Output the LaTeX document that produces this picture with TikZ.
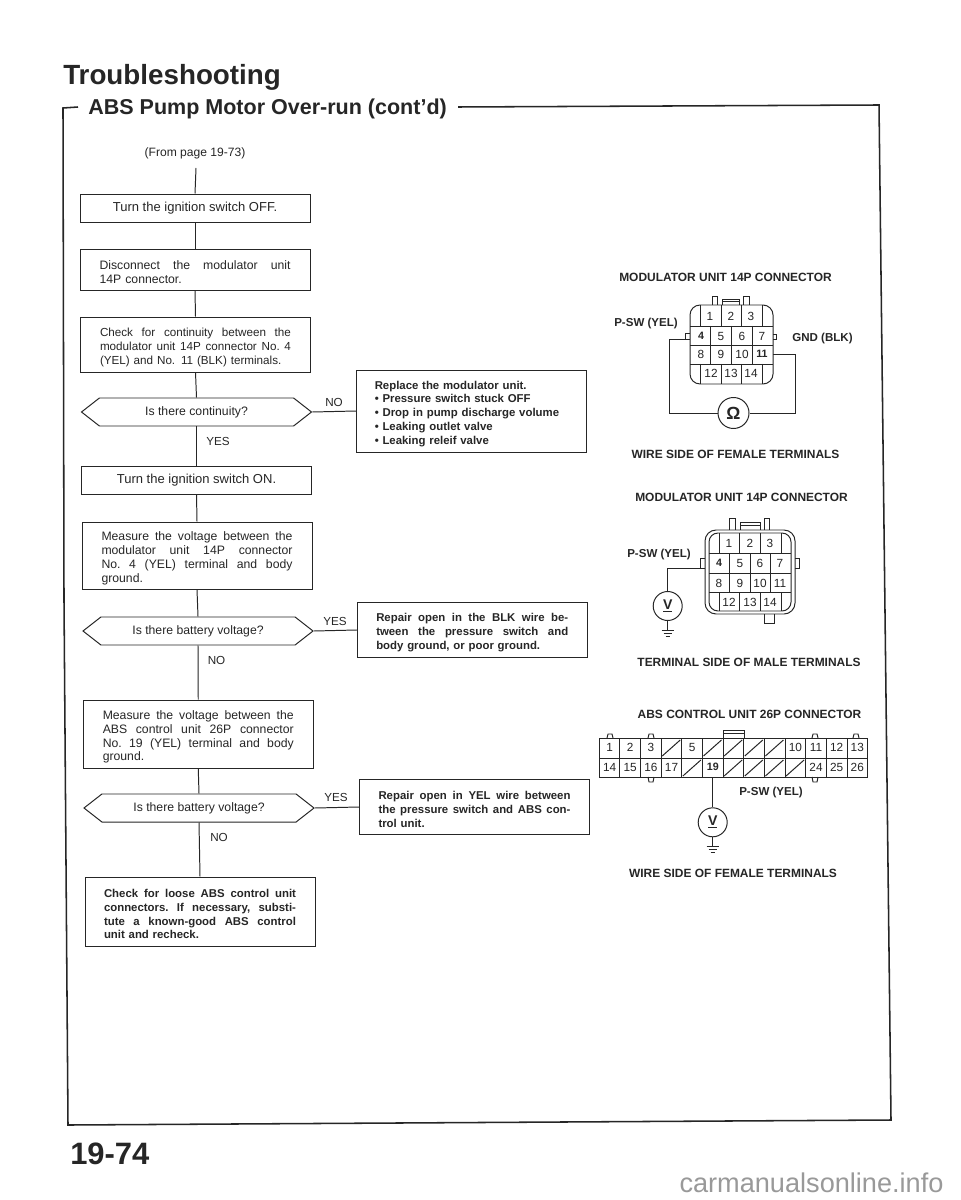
\documentclass[tikz,border=0pt]{standalone}
\usepackage{fontspec}
\setmainfont{Liberation Sans}
\usetikzlibrary{shapes.symbols}
\definecolor{ki}{HTML}{262626}
\definecolor{kmark}{HTML}{999999}
\newlength\px
\setlength\px{0.025cm}
\newcommand\jline[1]{\makebox[\hsize][s]{\spaceskip=0pt\xspaceskip=0pt\frenchspacing #1}}
\newcommand\flowfont{\fontsize{8.7}{9.85}\selectfont}
\newcommand\onefont{\fontsize{9.25}{9.85}\selectfont}
\newcommand\tightfont{\fontsize{8.3}{9.85}\selectfont}
\newcommand\fixfont{\fontsize{8.1}{9.85}\selectfont\bfseries}
\newcommand\headfont{\fontsize{8.5}{9}\selectfont\bfseries}

\begin{document}
\begin{tikzpicture}[x=0.025cm,y=-0.025cm,
  flowbox/.style={draw=ki,line width=0.7pt,inner ysep=0pt,inner xsep=19.5\px,text width=191\px,align=left,font=\flowfont,text=ki,minimum width=230\px,execute at begin node={\rule{0pt}{10.5pt}}},
  onebox/.style={draw=ki,line width=0.7pt,inner sep=0pt,align=center,font=\onefont,text=ki,minimum width=230\px},
  fixbox/.style={draw=ki,line width=0.7pt,inner ysep=0pt,inner xsep=19\px,text width=192\px,align=left,font=\fixfont,text=ki,minimum width=230\px,execute at begin node={\rule{0pt}{9.5pt}}},
  askbox/.style={draw=ki,line width=0.7pt,signal,signal to=east and west,signal pointer angle=76,inner sep=0pt,font=\flowfont,text=ki,minimum width=230\px,minimum height=28\px},
  answer/.style={font=\tightfont,text=ki,inner sep=0pt},
  flow/.style={draw=ki,line width=0.7pt},
  wire/.style={draw=ki,line width=0.7pt},
  head/.style={font=\headfont,text=ki,inner sep=0pt},
  label/.style={font=\fontsize{8.2}{9}\selectfont\bfseries,text=ki,inner sep=0pt},
  pinnum/.style={font=\fontsize{8.4}{10}\selectfont,text=ki,inner sep=0pt},
  pinbold/.style={font=\fontsize{7.6}{10}\selectfont\bfseries,text=ki,inner sep=0pt},
  meter/.style={circle,draw=ki,line width=0.7pt,inner sep=0pt,minimum size=29\px,text=ki}]
  \useasboundingbox (0,0) rectangle (960,1200);
  \fill[white] (0,0) rectangle (960,1200);

  % Page titles and frame
  \node[text=ki,font=\fontsize{19.75}{22}\selectfont\bfseries,anchor=base west,inner sep=0pt] (title) at (63,85) {Troubleshooting};
  \node[text=ki,font=\fontsize{15.3}{18}\selectfont\bfseries,anchor=base west,inner sep=0pt] (subtitle) at (88,115) {ABS Pump Motor Over-run (cont’d)};
  \draw[ki,line width=1.1pt] (78,107) -- (63,108) -- (64,600) -- (68,1125) -- (891,1120) -- (879,105) -- (458,107);
  \node[text=ki,font=\fontsize{22}{24}\selectfont\bfseries,anchor=base west,inner sep=0pt] (pageno) at (70,1164) {19-74};
  \node[text=kmark,font=\fontsize{19.3}{22}\selectfont,inner sep=0pt] (mark) at (811.5,1183) {carmanualsonline.info};

  % Flow chart, left column
  \node[answer,font=\fontsize{8.6}{10}\selectfont] (from) at (195,153) {(From page 19-73)};
  \coordinate (fromend) at (196,168);
  \node[onebox,minimum height=28\px] (off) at (195,208) {Turn the ignition switch OFF.};
  \node[flowbox,minimum height=41\px] (unplug) at (195,269.5) {\jline{Disconnect the modulator unit}\\14P connector.};
  \node[flowbox,font=\tightfont,minimum height=55\px] (check) at (195.5,344.5) {\jline{Check for continuity between the}\\\jline{modulator unit 14P connector No. 4}\\(YEL) and No. 11 (BLK) terminals.};
  \node[askbox] (cont) at (196.5,412) {Is there continuity?};
  \node[onebox,minimum height=28\px] (on) at (196.5,480) {Turn the ignition switch ON.};
  \node[flowbox,minimum height=67\px] (meas14) at (197,555.5) {\jline{Measure the voltage between the}\\\jline{modulator unit 14P connector}\\\jline{No. 4 (YEL) terminal and body}\\ground.};
  \node[askbox] (batt14) at (198,631) {Is there battery voltage?};
  \node[flowbox,minimum height=68\px] (meas26) at (198.25,734) {\jline{Measure the voltage between the}\\\jline{ABS control unit 26P connector}\\\jline{No. 19 (YEL) terminal and body}\\ground.};
  \node[askbox] (batt26) at (199,808) {Is there battery voltage?};
  \node[fixbox,minimum height=69\px] (loose) at (200,911.5) {\jline{Check for loose ABS control unit}\\\jline{connectors. If necessary, substi-}\\\jline{tute a known-good ABS control}\\unit and recheck.};

  % Flow chart, right column
  \node[fixbox,minimum height=82\px,text width=194\px,inner xsep=18\px,execute at begin node={\rule{0pt}{10pt}}] (replace) at (471.75,411) {Replace the modulator unit.\\\textbullet\ Pressure switch stuck OFF\\\textbullet\ Drop in pump discharge volume\\\textbullet\ Leaking outlet valve\\\textbullet\ Leaking releif valve};
  \node[fixbox,minimum height=55\px] (repblk) at (472.25,630) {\jline{Repair open in the BLK wire be-}\\\jline{tween the pressure switch and}\\body ground, or poor ground.};
  \node[fixbox,minimum height=55\px] (repyel) at (474.5,807) {\jline{Repair open in YEL wire between}\\\jline{the pressure switch and ABS con-}\\trol unit.};

  % Answers
  \node[answer] (no1) at (334,402) {NO};
  \node[answer] (yes1) at (218,441) {YES};
  \node[answer] (yes2) at (335,621) {YES};
  \node[answer] (no2) at (216.5,660) {NO};
  \node[answer] (yes3) at (336,797) {YES};
  \node[answer] (no3) at (219,837) {NO};

  % Flow lines
  \draw[flow] (fromend) -- (off.north);
  \draw[flow] (off.south) -- (unplug.north);
  \draw[flow] (unplug.south) -- (check.north);
  \draw[flow] (check.south) -- (cont.north);
  \draw[flow] (cont.south) -- (on.north);
  \draw[flow] (on.south) -- (meas14.north);
  \draw[flow] (meas14.south) -- (batt14.north);
  \draw[flow] (batt14.south) -- (meas26.north);
  \draw[flow] (meas26.south) -- (batt26.north);
  \draw[flow] (batt26.south) -- (loose.north);
  \draw[flow] (cont.east) -- (replace.west);
  \draw[flow] (batt14.east) -- (repblk.west);
  \draw[flow] (batt26.east) -- (repyel.west);

  % First connector, wire side
  \node[head] (headA) at (725.5,277) {MODULATOR UNIT 14P CONNECTOR};
  \node[head] (footA) at (735.5,454) {WIRE SIDE OF FEMALE TERMINALS};
  \node[label] (pswA) at (646,324) {P-SW (YEL)};
  \node[label] (gndA) at (822.5,339) {GND (BLK)};
  \draw[wire,rounded corners=10\px] (690,305) rectangle (773,384);
  \foreach \y in {326,345,364} {
    \draw[wire] (690,\y) -- (773,\y);
  }
  \foreach \x in {700,721,741.5,762} {
    \draw[wire] (\x,305) -- (\x,326);
    \draw[wire] (\x,364) -- (\x,384);
  }
  \foreach \x in {710,731,752} {
    \draw[wire] (\x,326) -- (\x,364);
  }
  \draw[wire] (712,305) -- (712,296) -- (717,296) -- (717,305);
  \draw[wire] (743,305) -- (743,296) -- (749,296) -- (749,305);
  \draw[wire] (722,305) -- (722,299) -- (739,299) -- (739,305) (722,301.5) -- (739,301.5);
  \draw[wire] (690,333) -- (685,333) -- (685,339) -- (690,339);
  \draw[wire] (773,334) -- (776,334) -- (776,339) -- (773,339);
  \foreach \n/\x/\y in {1/710/316,2/731/316,3/751/316,5/721/336,6/742/336,7/762/336,8/701/354,9/721/354,10/742/354,12/711/373,13/731/373,14/751/373} {
    \node[pinnum] (a\n) at (\x,\y) {\n};
  }
  \node[pinbold] (a4) at (701,336) {4};
  \node[pinbold] (a11) at (762,354) {11};
  \node[meter,minimum size=31\px,font=\fontsize{12.5}{13}\selectfont\bfseries] (ohm) at (733.5,413) {Ω};
  \coordinate (tabA) at (685,339);
  \coordinate (pinA) at (773,354);
  \draw[wire] (tabA) -- ++(-16,0) |- (ohm.west);
  \draw[wire] (pinA) -- ++(22,0) |- (ohm.east);

  % Second connector, terminal side
  \node[head] (headB) at (741.5,497) {MODULATOR UNIT 14P CONNECTOR};
  \node[head] (footB) at (749,662) {TERMINAL SIDE OF MALE TERMINALS};
  \node[label] (pswB) at (659,555) {P-SW (YEL)};
  \draw[wire,rounded corners=11\px] (705,530) rectangle (795,614);
  \draw[wire,rounded corners=9\px] (709,533) rectangle (791,611);
  \foreach \y in {553,573,592} {
    \draw[wire] (709,\y) -- (791,\y);
  }
  \foreach \x in {719,739,760,781} {
    \draw[wire] (\x,533) -- (\x,553);
    \draw[wire] (\x,592) -- (\x,611);
  }
  \foreach \x in {729,750,770} {
    \draw[wire] (\x,553) -- (\x,592);
  }
  \draw[wire] (729,530) -- (729,518) -- (735,518) -- (735,530);
  \draw[wire] (764,530) -- (764,518) -- (769,518) -- (769,530);
  \draw[wire] (740,530) -- (740,522) -- (760,522) -- (760,530) (740,525) -- (760,525);
  \draw[wire] (705,558) -- (700,558) -- (700,568) -- (705,568);
  \draw[wire] (795,558) -- (799,558) -- (799,568) -- (795,568);
  \draw[wire] (764,614) -- (764,623) -- (774,623) -- (774,614);
  \foreach \n/\x/\y in {1/729/543,2/750/543,3/770/543,5/740/563,6/760/563,7/780/563,8/719/583,9/740/583,10/760/583,11/780/583,12/729/602,13/750/602,14/770/602} {
    \node[pinnum] (b\n) at (\x,\y) {\n};
  }
  \node[pinbold] (b4) at (719,563) {4};
  \node[meter,font=\fontsize{10}{12}\selectfont\bfseries] (vB) at (667.7,606) {\underline{V}};
  \coordinate (tabB) at (705,568);
  \coordinate (gndB) at (667.7,630);
  \draw[wire] (tabB) -| (vB.north);
  \draw[wire] (vB.south) -- (gndB);
  \foreach \w/\d in {6/0,4/3,2/6} {
    \draw[wire] (667.7-\w,630+\d) -- (667.7+\w,630+\d);
  }

  % Third connector, 26 pins
  \node[head] (headC) at (749.5,714) {ABS CONTROL UNIT 26P CONNECTOR};
  \node[head] (footC) at (733,873) {WIRE SIDE OF FEMALE TERMINALS};
  \node[label] (pswC) at (771,793) {P-SW (YEL)};
  \draw[wire] (599.3,738) rectangle (867.6,777);
  \draw[wire] (599.3,758) -- (867.6,758);
  \foreach \i in {1,...,12} {
    \draw[wire] ({599.3+20.64*\i},738) -- ({599.3+20.64*\i},777);
  }
  \foreach \x in {607,648,812,853} {
    \draw[wire] (\x,738) -- (\x+1,734) -- (\x+5,734) -- (\x+6,738);
  }
  \foreach \x in {648,812} {
    \draw[wire] (\x,777) -- (\x+1,782) -- (\x+5,782) -- (\x+6,777);
  }
  \draw[wire] (723,738) -- (723,730) -- (744,730) -- (744,738) (723,733) -- (744,733);
  % Empty cavities
  \foreach \i in {3,5,6,7,8} {
    \draw[wire] ({600.3+20.64*\i},756) -- ({618.3+20.64*\i},740);
  }
  \foreach \i in {4,6,7,8,9} {
    \draw[wire] ({600.3+20.64*\i},776) -- ({618.3+20.64*\i},760);
  }
  \foreach \n/\i in {1/0,2/1,3/2,5/4,10/9,11/10,12/11,13/12} {
    \node[pinnum] (c\n) at ({609.6+20.64*\i},747) {\n};
  }
  \foreach \n/\i in {14/0,15/1,16/2,17/3,24/10,25/11,26/12} {
    \node[pinnum] (c\n) at ({609.6+20.64*\i},767) {\n};
  }
  \node[pinbold] (c19) at (712.8,767) {19};
  \node[meter,font=\fontsize{10}{12}\selectfont\bfseries] (vC) at (712.7,822.3) {\underline{V}};
  \coordinate (pinC) at (712.7,777);
  \coordinate (gndC) at (712.7,846);
  \draw[wire] (pinC) -- (vC.north);
  \draw[wire] (vC.south) -- (gndC);
  \foreach \w/\d in {6/0,4/3,2/6} {
    \draw[wire] (712.7-\w,846+\d) -- (712.7+\w,846+\d);
  }
\end{tikzpicture}
\end{document}
